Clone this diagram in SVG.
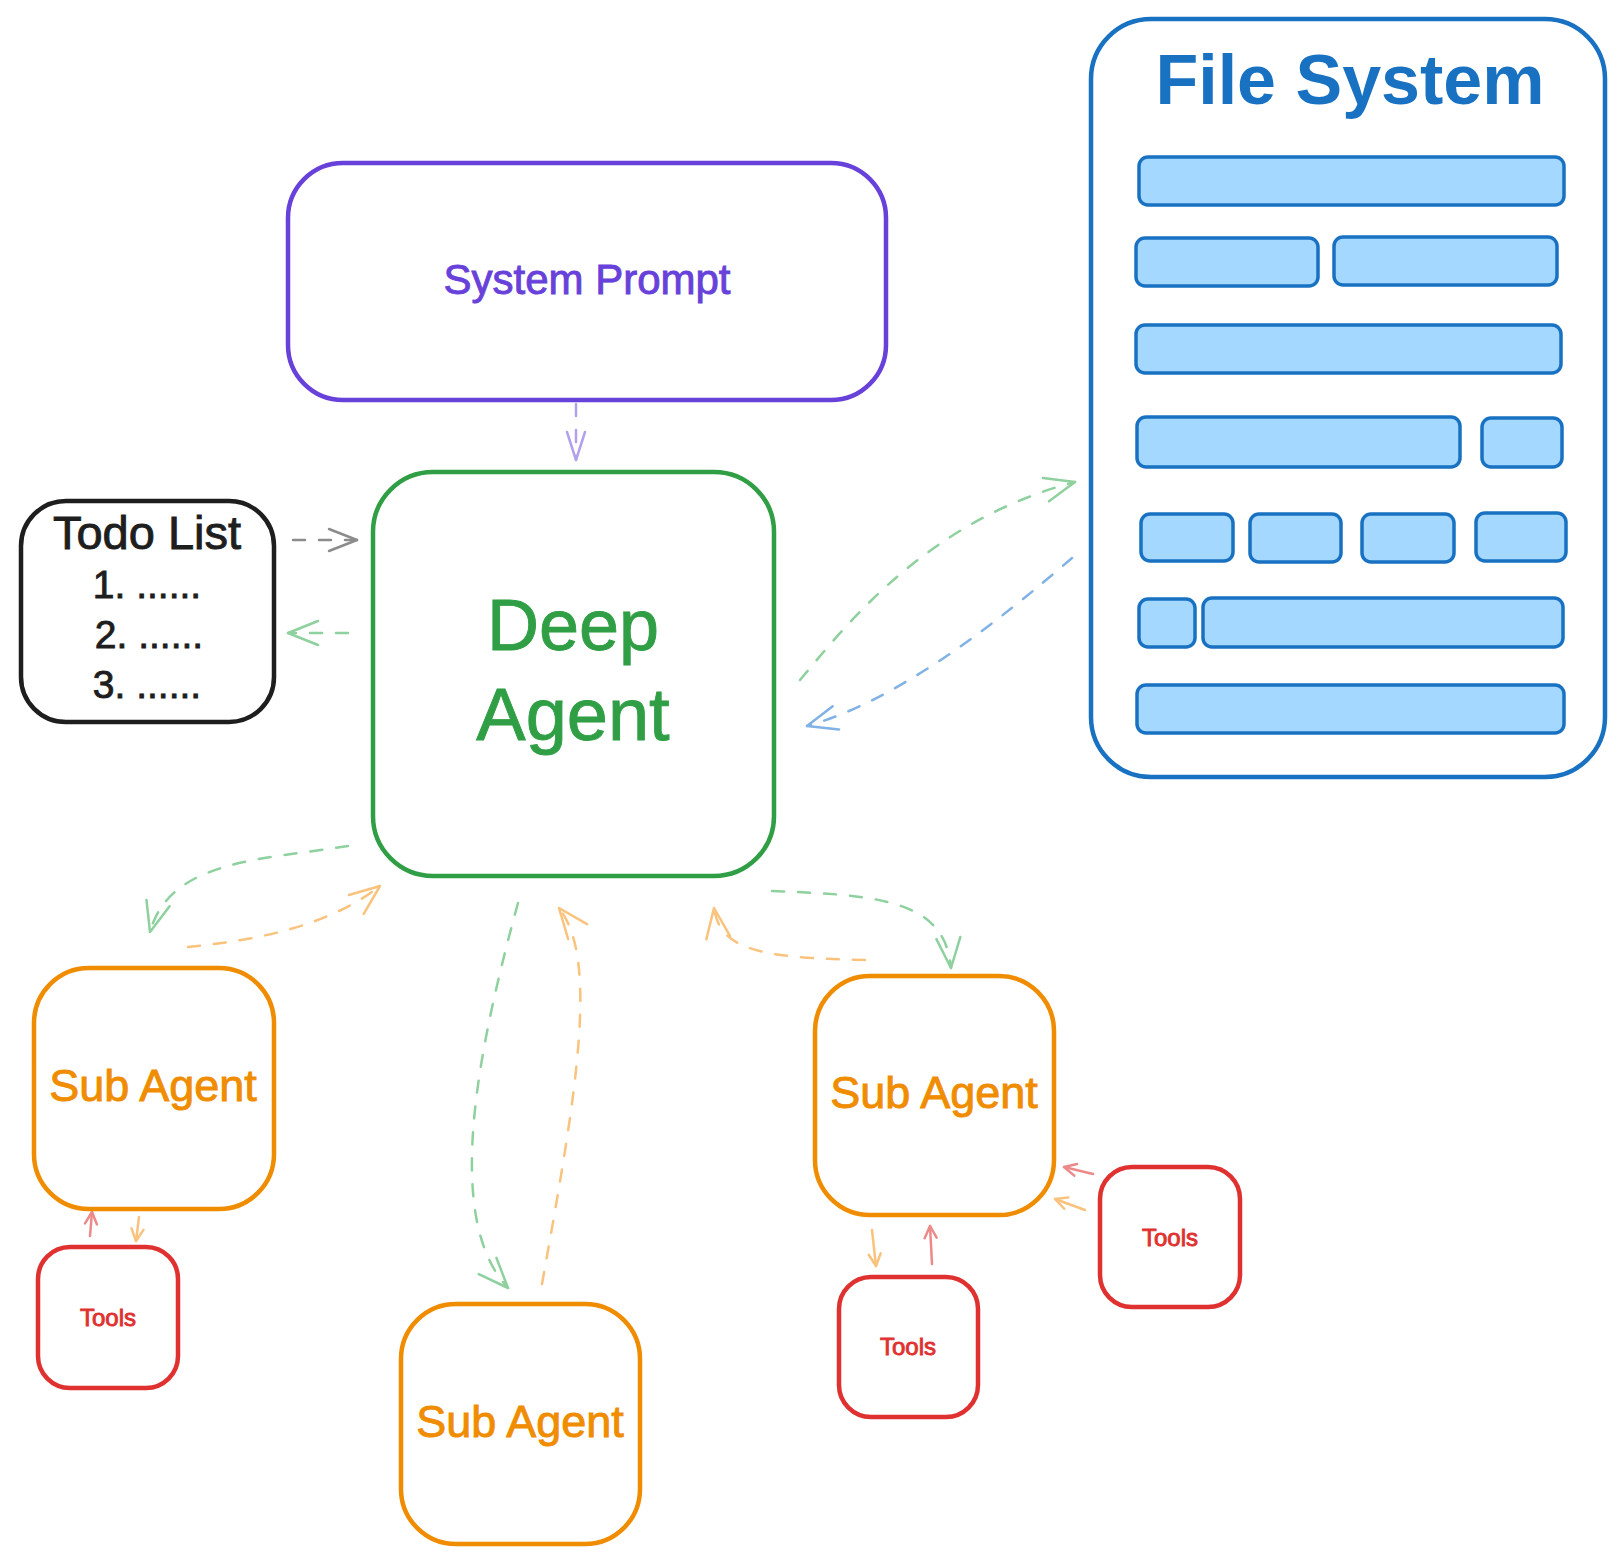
<svg xmlns="http://www.w3.org/2000/svg" width="1624" height="1564" viewBox="0 0 1624 1564">
<style>
  .box { fill: #ffffff; stroke-width: 4.5; stroke-linejoin: round; }
  .lbl { font-family: "Liberation Sans", "Noto Sans", sans-serif; text-anchor: middle; stroke-width: 0.9; paint-order: stroke; }
  .bar { fill: #a5d8ff; stroke: #1971c2; stroke-width: 3.5; }
  .conn { fill: none; stroke-width: 2.5; stroke-linecap: round; stroke-dasharray: 12 14; }
  .short { fill: none; stroke-width: 2.5; stroke-linecap: round; }
  .head { fill: none; stroke-width: 2.5; stroke-linecap: round; stroke-linejoin: round; }
</style>
<defs>
  <marker id="ah-green" markerUnits="userSpaceOnUse" markerWidth="40" markerHeight="40" refX="0" refY="0" orient="auto" overflow="visible"><path class="head" stroke="#8fd19e" d="M -30 -12 L 0 0 L -30 12"/></marker>
  <marker id="ah-orange" markerUnits="userSpaceOnUse" markerWidth="40" markerHeight="40" refX="0" refY="0" orient="auto" overflow="visible"><path class="head" stroke="#f9c37e" d="M -30 -12 L 0 0 L -30 12"/></marker>
  <marker id="ah-blue" markerUnits="userSpaceOnUse" markerWidth="40" markerHeight="40" refX="0" refY="0" orient="auto" overflow="visible"><path class="head" stroke="#80b2e6" d="M -30 -12 L 0 0 L -30 12"/></marker>
  <marker id="ah-purple" markerUnits="userSpaceOnUse" markerWidth="40" markerHeight="40" refX="0" refY="0" orient="auto" overflow="visible"><path class="head" stroke="#b3a0ec" d="M -28 -9 L 0 0 L -28 9"/></marker>
  <marker id="ah-gray" markerUnits="userSpaceOnUse" markerWidth="40" markerHeight="40" refX="0" refY="0" orient="auto" overflow="visible"><path class="head" stroke="#8c8c8c" d="M -28 -11 L 0 0 L -28 11"/></marker>
  <marker id="sm-red" markerUnits="userSpaceOnUse" markerWidth="20" markerHeight="20" refX="0" refY="0" orient="auto" overflow="visible"><path class="head" stroke="#ec8a8a" d="M -12 -6 L 0 0 L -12 6"/></marker>
  <marker id="sm-orange" markerUnits="userSpaceOnUse" markerWidth="20" markerHeight="20" refX="0" refY="0" orient="auto" overflow="visible"><path class="head" stroke="#f9c37e" d="M -12 -6 L 0 0 L -12 6"/></marker>
</defs>
<rect x="0" y="0" width="1624" height="1564" fill="#ffffff"/>

<g id="connectors">
  <path class="conn" stroke="#b3a0ec" d="M 576 404 L 576 460" marker-end="url(#ah-purple)"/>
  <path class="conn" stroke="#8c8c8c" d="M 293 540 L 357 540" marker-end="url(#ah-gray)"/>
  <path class="conn" stroke="#8fd19e" d="M 348 633 L 288 633" marker-end="url(#ah-green)"/>
  <path class="conn" stroke="#8fd19e" d="M 800 680 C 850 620, 930 520, 1075 482" marker-end="url(#ah-green)"/>
  <path class="conn" stroke="#80b2e6" d="M 1072 558 C 1000 620, 900 700, 807 726" marker-end="url(#ah-blue)"/>
  <path class="conn" stroke="#8fd19e" d="M 348 846 C 260 860, 170 860, 150 932" marker-end="url(#ah-green)"/>
  <path class="conn" stroke="#f9c37e" d="M 188 947 C 260 940, 330 925, 380 886" marker-end="url(#ah-orange)"/>
  <path class="conn" stroke="#8fd19e" d="M 518 903 C 475 1060, 445 1220, 508 1288" marker-end="url(#ah-green)"/>
  <path class="conn" stroke="#f9c37e" d="M 542 1284 C 575 1100, 600 960, 559 908" marker-end="url(#ah-orange)"/>
  <path class="conn" stroke="#8fd19e" d="M 772 891 C 880 895, 945 900, 951 968" marker-end="url(#ah-green)"/>
  <path class="conn" stroke="#f9c37e" d="M 865 960 C 760 958, 720 950, 714 908" marker-end="url(#ah-orange)"/>
  <path class="short" stroke="#ec8a8a" d="M 90 1236 L 92 1212" marker-end="url(#sm-red)"/>
  <path class="short" stroke="#f9c37e" d="M 139 1217 L 136 1241" marker-end="url(#sm-orange)"/>
  <path class="short" stroke="#f9c37e" d="M 872 1230 L 876 1266" marker-end="url(#sm-orange)"/>
  <path class="short" stroke="#ec8a8a" d="M 932 1264 L 930 1226" marker-end="url(#sm-red)"/>
  <path class="short" stroke="#ec8a8a" d="M 1093 1174 L 1064 1167" marker-end="url(#sm-red)"/>
  <path class="short" stroke="#f9c37e" d="M 1085 1210 L 1055 1199" marker-end="url(#sm-orange)"/>
</g>

<g id="system-prompt">
  <rect class="box" stroke="#6741d9" x="288" y="163" width="598" height="237" rx="55"/>
  <text class="lbl" x="587" y="294" font-size="42" fill="#6741d9" stroke="#6741d9">System Prompt</text>
</g>

<g id="deep-agent">
  <rect class="box" stroke="#2f9e44" x="373" y="472" width="401" height="404" rx="60"/>
  <text class="lbl" x="573" y="650" font-size="72" fill="#2f9e44" stroke="#2f9e44" stroke-width="1.5">Deep</text>
  <text class="lbl" x="573" y="740" font-size="74" fill="#2f9e44" stroke="#2f9e44" stroke-width="1.5">Agent</text>
</g>

<g id="todo-list">
  <rect class="box" stroke="#1e1e1e" x="21" y="501" width="253" height="221" rx="45"/>
  <text class="lbl" x="147" y="549" font-size="47" fill="#1e1e1e" stroke="#1e1e1e">Todo List</text>
  <text class="lbl" x="147" y="598" font-size="39" fill="#1e1e1e" stroke="#1e1e1e" stroke-width="1.4">1. ......</text>
  <text class="lbl" x="149" y="648" font-size="39" fill="#1e1e1e" stroke="#1e1e1e" stroke-width="1.4">2. ......</text>
  <text class="lbl" x="147" y="698" font-size="39" fill="#1e1e1e" stroke="#1e1e1e" stroke-width="1.4">3. ......</text>
</g>

<g id="file-system">
  <rect class="box" stroke="#1971c2" x="1091" y="19" width="514" height="758" rx="60"/>
  <text class="lbl" x="1350" y="104" font-size="70" font-weight="bold" fill="#1971c2">File System</text>
  <rect class="bar" x="1139" y="157" width="425" height="48" rx="9"/>
  <rect class="bar" x="1136" y="238" width="182" height="48" rx="9"/>
  <rect class="bar" x="1334" y="237" width="223" height="48" rx="9"/>
  <rect class="bar" x="1136" y="325" width="425" height="48" rx="9"/>
  <rect class="bar" x="1137" y="417" width="323" height="50" rx="9"/>
  <rect class="bar" x="1482" y="418" width="80" height="49" rx="9"/>
  <rect class="bar" x="1141" y="514" width="92" height="47" rx="9"/>
  <rect class="bar" x="1250" y="514" width="91" height="48" rx="9"/>
  <rect class="bar" x="1362" y="514" width="92" height="48" rx="9"/>
  <rect class="bar" x="1476" y="513" width="90" height="48" rx="9"/>
  <rect class="bar" x="1139" y="599" width="56" height="48" rx="9"/>
  <rect class="bar" x="1203" y="598" width="360" height="49" rx="9"/>
  <rect class="bar" x="1137" y="685" width="427" height="48" rx="9"/>
</g>

<g id="sub-agent-1">
  <rect class="box" stroke="#f08c00" x="34" y="968" width="240" height="241" rx="55"/>
  <text class="lbl" x="153" y="1101" font-size="45" fill="#f08c00" stroke="#f08c00" stroke-width="1.2">Sub Agent</text>
</g>

<g id="tools-1">
  <rect class="box" stroke="#e03131" x="38" y="1247" width="140" height="141" rx="32"/>
  <text class="lbl" x="108" y="1326" font-size="24" fill="#e03131" stroke="#e03131" stroke-width="0.4">Tools</text>
</g>

<g id="sub-agent-2">
  <rect class="box" stroke="#f08c00" x="401" y="1304" width="239" height="240" rx="55"/>
  <text class="lbl" x="520" y="1437" font-size="45" fill="#f08c00" stroke="#f08c00" stroke-width="1.2">Sub Agent</text>
</g>

<g id="sub-agent-3">
  <rect class="box" stroke="#f08c00" x="815" y="976" width="239" height="239" rx="55"/>
  <text class="lbl" x="934" y="1108" font-size="45" fill="#f08c00" stroke="#f08c00" stroke-width="1.2">Sub Agent</text>
</g>

<g id="tools-2">
  <rect class="box" stroke="#e03131" x="839" y="1277" width="139" height="140" rx="32"/>
  <text class="lbl" x="908" y="1355" font-size="24" fill="#e03131" stroke="#e03131" stroke-width="0.4">Tools</text>
</g>

<g id="tools-3">
  <rect class="box" stroke="#e03131" x="1100" y="1167" width="140" height="140" rx="32"/>
  <text class="lbl" x="1170" y="1246" font-size="24" fill="#e03131" stroke="#e03131" stroke-width="0.4">Tools</text>
</g>
</svg>
